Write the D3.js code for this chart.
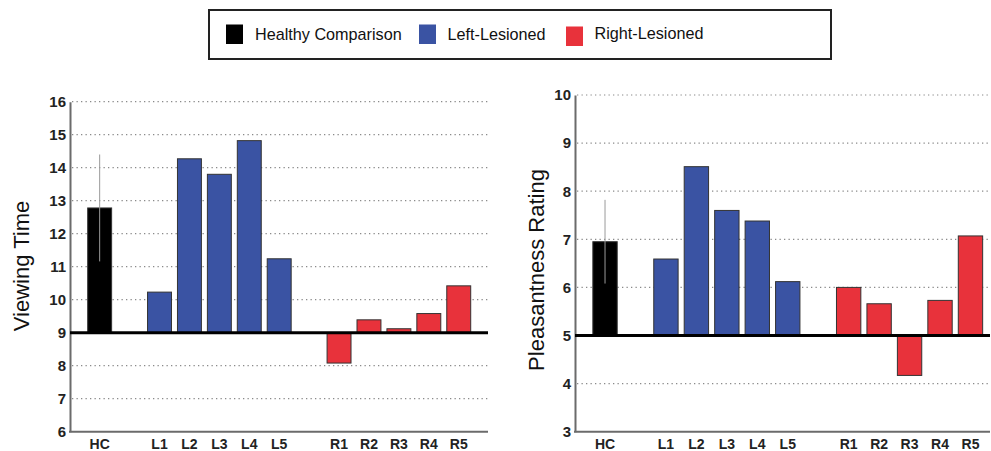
<!DOCTYPE html>
<html>
<head>
<meta charset="utf-8">
<script src="https://cdn.jsdelivr.net/npm/d3@7"></script>
<style>
  body { margin: 0; background: #fff; }
  text { font-family: "Liberation Sans", Arial, Helvetica, sans-serif; }
</style>
</head>
<body>
<div id="canvas"></div>
<script>
//    data
var subjects = ['HC', 'L1', 'L2', 'L3', 'L4', 'L5', 'R1', 'R2', 'R3', 'R4', 'R5'];
var groups   = ['H',  'L',  'L',  'L',  'L',  'L',  'R',  'R',  'R',  'R',  'R'];
// empty slots between the groups
var slots = ['HC', 'gap1', 'L1', 'L2', 'L3', 'L4', 'L5', 'gap2', 'R1', 'R2', 'R3', 'R4', 'R5'];

var viewingTime = [12.78, 10.23, 14.27, 13.80, 14.82, 11.24, 8.08, 9.39, 9.12, 9.58, 10.42];
var viewingErr  = [1.62, 0, 0, 0, 0, 0, 0, 0, 0, 0, 0];
var viewingTicks = [6, 7, 8, 9, 10, 11, 12, 13, 14, 15, 16];

var pleasantness = [6.95, 6.59, 8.51, 7.60, 7.38, 6.12, 6.00, 5.66, 4.17, 5.73, 7.07];
var pleasantErr  = [0.87, 0, 0, 0, 0, 0, 0, 0, 0, 0, 0];
var pleasantTicks = [3, 4, 5, 6, 7, 8, 9, 10];

var legendLabels = ['Healthy Comparison', 'Left-Lesioned', 'Right-Lesioned'];
var legendKeys   = ['H', 'L', 'R'];

//    styles
var color = { H: '#000000', L: '#3a53a3', R: '#e8323b' };

var svg = d3.select('#canvas')
    .append('svg')
    .attr('width', 991)
    .attr('height', 451);

//    legend
var legend = svg.append('g');
legend.append('rect')
    .attr('x', 209).attr('y', 10)
    .attr('width', 622).attr('height', 49)
    .attr('fill', 'white')
    .attr('stroke', '#222')
    .attr('stroke-width', 2);

var legendX = [226, 419, 566];
var items = legend.selectAll('.item')
    .data(legendLabels)
    .enter()
    .append('g')
    .attr('class', 'item')
    .attr('transform', function(d, i) { return 'translate(' + legendX[i] + ',0)'; });
items.append('rect')
    .attr('x', 0).attr('y', function(d, i) { return i == 2 ? 26.5 : 24.5; })
    .attr('width', 17).attr('height', 19.5)
    .attr('fill', function(d, i) { return color[legendKeys[i]]; });
items.append('text')
    .attr('x', function(d, i) { return i == 0 ? 29 : 28.5; })
    .attr('y', function(d, i) { return i == 2 ? 38.5 : 40; })
    .style('font-size', '16.2px')
    .attr('fill', '#111')
    .text(function(d) { return d; });

//    one panel
function drawPanel(cfg) {
    var g = svg.append('g');

    var y = d3.scaleLinear()
        .domain(d3.extent(cfg.ticks))
        .range([431.7, cfg.top]);

    var x = d3.scaleBand()
        .domain(slots)
        .range(cfg.barRange)
        .paddingInner(0.2)
        .paddingOuter(0.1);

    // dotted grid
    g.selectAll('.grid')
        .data(cfg.ticks.filter(function(t) { return t != cfg.base && t != cfg.ticks[0]; }))
        .enter()
        .append('line')
        .attr('x1', cfg.left + 2).attr('x2', cfg.right)
        .attr('y1', function(d) { return y(d); })
        .attr('y2', function(d) { return y(d); })
        .attr('stroke', '#8a8a8a')
        .attr('stroke-width', 1.2)
        .attr('stroke-dasharray', '1.3,3.2');

    // y axis
    var yAxis = d3.axisLeft(y)
        .tickValues(cfg.ticks)
        .tickSize(0)
        .tickPadding(4)
        .tickFormat(d3.format('d'));
    var ya = g.append('g')
        .attr('transform', 'translate(' + cfg.left + ',0)')
        .call(yAxis);
    ya.select('.domain').attr('stroke', '#6b6b6b').attr('stroke-width', 2);
    ya.selectAll('text')
        .style('font-size', '15px')
        .style('font-weight', 'bold')
        .attr('fill', '#222');

    // bottom line
    g.append('line')
        .attr('x1', cfg.left - 1).attr('x2', cfg.right)
        .attr('y1', y(cfg.ticks[0])).attr('y2', y(cfg.ticks[0]))
        .attr('stroke', '#6b6b6b')
        .attr('stroke-width', 2);

    // x labels
    g.selectAll('.xlab')
        .data(subjects)
        .enter()
        .append('text')
        .attr('x', function(d) { return x(d) + x.bandwidth() / 2; })
        .attr('y', 449)
        .attr('text-anchor', 'middle')
        .style('font-size', '14px')
        .style('font-weight', 'bold')
        .attr('fill', '#222')
        .text(function(d) { return d; });

    // bars
    g.selectAll('.bar')
        .data(cfg.values)
        .enter()
        .append('rect')
        .attr('x', function(d, i) { return x(subjects[i]); })
        .attr('width', x.bandwidth())
        .attr('y', function(d) { return y(Math.max(d, cfg.base)); })
        .attr('height', function(d) { return Math.abs(y(d) - y(cfg.base)); })
        .attr('fill', function(d, i) { return color[groups[i]]; })
        .attr('stroke', '#333')
        .attr('stroke-width', 1);

    // error bars
    g.selectAll('.err')
        .data(cfg.values.map(function(v, i) { return [v, cfg.err[i], subjects[i]]; })
            .filter(function(d) { return d[1] > 0; }))
        .enter()
        .append('line')
        .attr('x1', function(d) { return x(d[2]) + x.bandwidth() / 2; })
        .attr('x2', function(d) { return x(d[2]) + x.bandwidth() / 2; })
        .attr('y1', function(d) { return y(d[0] + d[1]); })
        .attr('y2', function(d) { return y(d[0] - d[1]); })
        .attr('stroke', '#9a9a9a')
        .attr('stroke-width', 1);

    // baseline
    g.append('line')
        .attr('x1', cfg.left).attr('x2', cfg.right)
        .attr('y1', y(cfg.base)).attr('y2', y(cfg.base))
        .attr('stroke', '#000')
        .attr('stroke-width', 3);

    // axis title
    g.append('text')
        .attr('transform', 'translate(' + cfg.titleX + ',' + cfg.titleY + ') rotate(-90)')
        .attr('text-anchor', 'middle')
        .style('font-size', '22px')
        .attr('fill', '#111')
        .text(cfg.title);
}

drawPanel({
    values: viewingTime, err: viewingErr, ticks: viewingTicks, base: 9,
    left: 70, right: 488, top: 101.7, barRange: [84.7, 473.7],
    title: 'Viewing Time', titleX: 29, titleY: 266
});

drawPanel({
    values: pleasantness, err: pleasantErr, ticks: pleasantTicks, base: 5,
    left: 575, right: 990, top: 95, barRange: [589.8, 985.7],
    title: 'Pleasantness Rating', titleX: 544, titleY: 270
});
</script>
</body>
</html>
